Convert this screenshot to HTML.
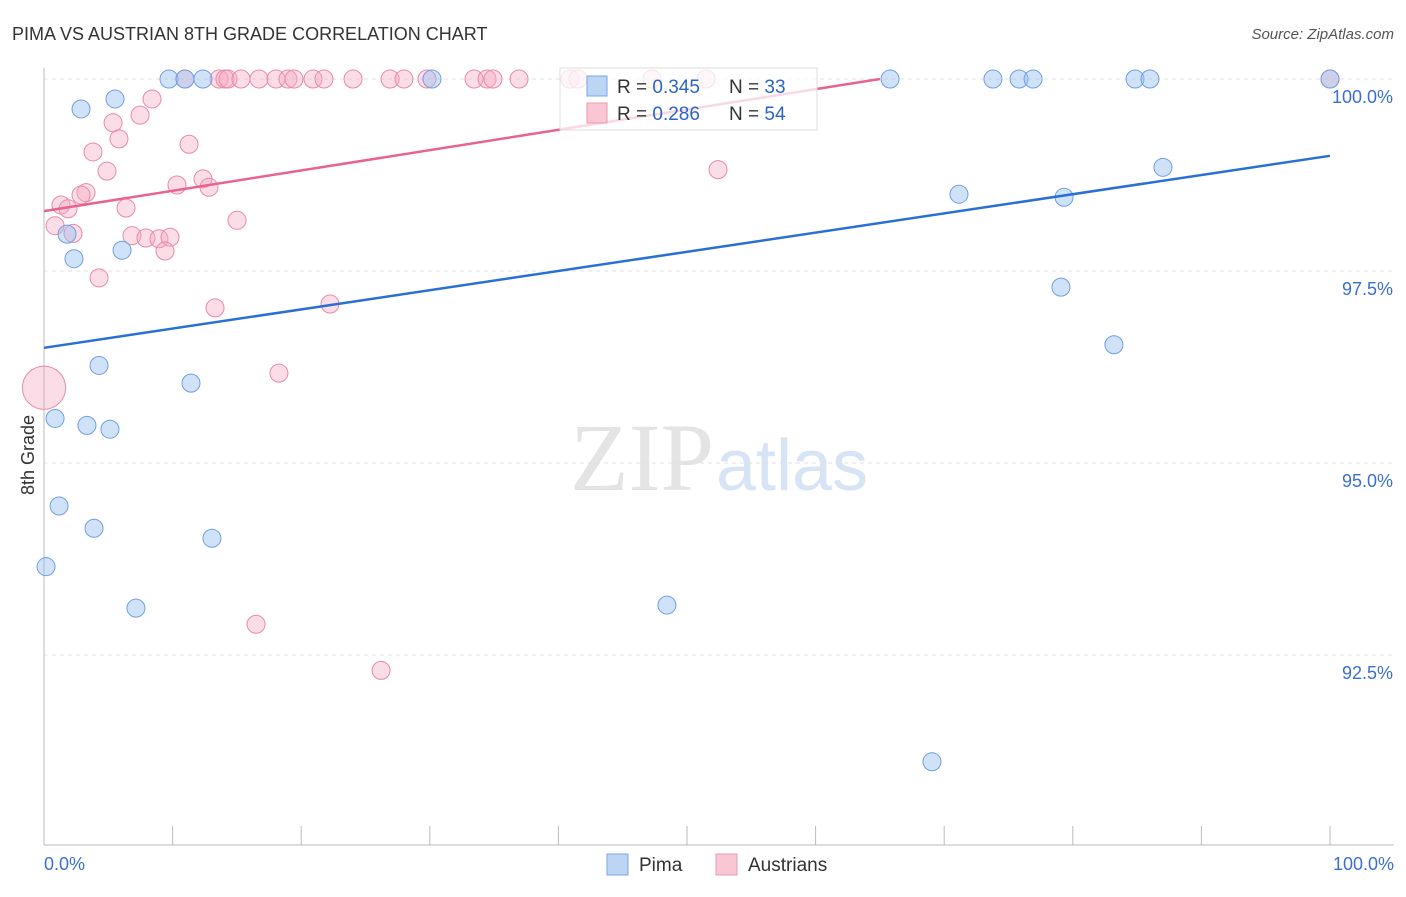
<!DOCTYPE html>
<html><head><meta charset="utf-8"><style>
body{margin:0;background:#fff;font-family:"Liberation Sans",sans-serif}
</style></head><body>
<svg width="1406" height="892" xmlns="http://www.w3.org/2000/svg" id="chart">
<text x="12" y="40" font-size="18" fill="#333">PIMA VS AUSTRIAN 8TH GRADE CORRELATION CHART</text>
<text x="1394" y="39" font-size="15" fill="#555" font-style="italic" text-anchor="end">Source: ZipAtlas.com</text>
<text x="714" y="490" font-size="96" fill="#e4e4e4" text-anchor="end" font-family="Liberation Serif,serif">ZIP</text>
<text x="716" y="490" font-size="72" fill="#d6e4f5">atlas</text>
<g id="grid"></g><g id="marks"></g>
<text transform="translate(34,455) rotate(-90)" font-size="18" fill="#333" text-anchor="middle">8th Grade</text>
<text x="44" y="870" font-size="18" fill="#3a6fd1">0.0%</text>
<text x="1394" y="870" font-size="18" fill="#3a6fd1" text-anchor="end">100.0%</text>
<g>
<rect x="560" y="68" width="257" height="62" fill="rgba(255,255,255,0.75)" stroke="#ddd"/>
<rect x="587" y="76" width="20" height="20" fill="#bcd5f5" stroke="#7aa6e4"/>
<rect x="587" y="103" width="20" height="20" fill="#f9c6d4" stroke="#ec99b3"/>
<text x="617" y="93" font-size="19" fill="#333">R = <tspan fill="#2a64c9">0.345</tspan></text>
<text x="729" y="93" font-size="19" fill="#333">N = <tspan fill="#2a64c9">33</tspan></text>
<text x="617" y="120" font-size="19" fill="#333">R = <tspan fill="#2a64c9">0.286</tspan></text>
<text x="729" y="120" font-size="19" fill="#333">N = <tspan fill="#2a64c9">54</tspan></text>
</g>
<g>
<rect x="607" y="854" width="21" height="21" fill="#bcd5f5" stroke="#7aa6e4"/>
<text x="639" y="871" font-size="19" fill="#333">Pima</text>
<rect x="716" y="854" width="21" height="21" fill="#f9c6d4" stroke="#ec99b3"/>
<text x="748" y="871" font-size="19" fill="#333">Austrians</text>
</g>
</svg>
<script>
const yTicks=[100,97.5,95,92.5];
const yTickLabels=["100.0%","97.5%","95.0%","92.5%"];
const pimaX=[9.72,10.96,12.36,30.17,65.79,73.79,75.82,76.91,84.84,86.0,100,2.88,5.52,1.79,2.33,6.07,4.28,11.43,0.86,3.34,5.13,1.17,3.89,13.06,0.16,7.15,48.44,71.15,79.32,87.01,79.08,83.2,69.05];
const pimaY=[100,100,100,100,100,100,100,100,100,100,100,99.61,99.74,97.98,97.66,97.77,96.27,96.04,95.58,95.49,95.44,94.44,94.15,94.02,93.65,93.11,93.15,98.50,98.46,98.85,97.29,96.54,91.11];
const ausX=[10.96,13.61,14.07,14.31,15.32,16.72,18.04,18.97,19.44,20.92,21.77,24.03,26.91,27.99,29.78,33.44,34.45,34.91,36.94,40.9,41.52,47.28,51.48,100,8.4,7.47,5.37,5.83,3.81,11.28,4.9,3.27,2.88,1.32,1.87,6.38,10.34,12.36,12.83,15.01,0.86,2.26,6.84,7.93,8.94,9.8,9.41,4.28,13.3,22.24,18.27,0,16.49,26.21,52.41];
const ausY=[100,100,100,100,100,100,100,100,100,100,100,100,100,100,100,100,100,100,100,100,100,100,100,100,99.74,99.53,99.43,99.22,99.05,99.15,98.8,98.52,98.49,98.36,98.31,98.32,98.62,98.70,98.59,98.16,98.09,97.99,97.96,97.93,97.92,97.94,97.76,97.41,97.02,97.07,96.17,95.98,92.9,92.3,98.82];
const ausSize=ausY.map((v,i)=>i===51?2.4:1);
const pimaTrend=[96.5,99.0];
const ausTrend=[98.28,100.0,65];
const xs=v=>44+v*12.86, ys=v=>79+(100-v)*76.8;
const NS="http://www.w3.org/2000/svg";
const grid=document.getElementById('grid'), marks=document.getElementById('marks');
function mk(p,tag,a){const e=document.createElementNS(NS,tag);for(const k in a)e.setAttribute(k,a[k]);p.appendChild(e);return e;}
yTicks.forEach((t,i)=>{
 const l=mk(grid,'line',{x1:44,x2:1394,y1:ys(t),y2:ys(t),stroke:'#e0e0e0','stroke-dasharray':'4,4'});
 
 
 const tx=mk(grid,'text',{x:1393,y:ys(t)+24,'font-size':18,fill:'#3a6fd1','text-anchor':'end'});
 tx.textContent=yTickLabels[i];
 
 
});
mk(grid,'line',{x1:44,x2:44,y1:68,y2:845,stroke:'#bbb'});
mk(grid,'line',{x1:44,x2:1394,y1:845,y2:845,stroke:'#bbb'});
for(let i=0;i<=10;i++){const t=mk(grid,'line',{x1:xs(i*10),x2:xs(i*10),y1:826,y2:845,stroke:'#bbb'});
 
 }
ausX.forEach((x,i)=>{const c=mk(marks,'circle',{cx:xs(x),cy:ys(ausY[i]),r:9*ausSize[i],fill:'rgba(245,170,195,0.4)',stroke:'#e98aa6','stroke-width':1});
 
 });
pimaX.forEach((x,i)=>{const c=mk(marks,'circle',{cx:xs(x),cy:ys(pimaY[i]),r:9,fill:'rgba(150,190,240,0.45)',stroke:'#6f9fe0','stroke-width':1});
 
 });
const pl=mk(marks,'line',{x1:xs(0),y1:ys(pimaTrend[0]),x2:xs(100),y2:ys(pimaTrend[1]),stroke:'#2a6fd6','stroke-width':2.5});


const al=mk(marks,'line',{x1:xs(0),y1:ys(ausTrend[0]),x2:xs(ausTrend[2]),y2:ys(ausTrend[1]),stroke:'#e8648f','stroke-width':2.5});


</script>
</body></html>
